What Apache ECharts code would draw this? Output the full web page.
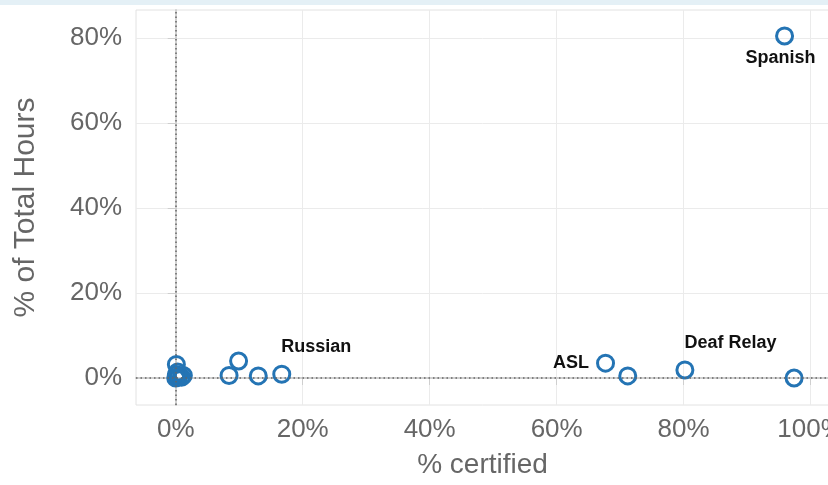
<!DOCTYPE html>
<html>
<head>
<meta charset="utf-8">
<script src="https://cdn.jsdelivr.net/npm/echarts@6/dist/echarts.min.js"></script>
<style>
  html, body { margin: 0; padding: 0; background: #fff; }
  #chart { width: 828px; height: 485px; }
</style>
</head>
<body>
<div id="chart"></div>
<script>
  // languages (only a few are labelled in the view)
  const languages = ['Spanish', 'Russian', 'ASL', '', 'Deaf Relay', '', '', '', '',
    '', '', '', '', '', '', '', '']
  const pctCertified = [95.9, 16.7, 67.7, 71.2, 80.2, 97.4, 9.9, 8.4, 13.0,
    0.1, 0.1, 0.2, 0.5, 0.9, 1.2, 0.3, 0.0]
  const pctHours = [80.5, 0.9, 3.5, 0.5, 1.9, 0.0, 4.0, 0.6, 0.5,
    3.2, 0.8, 0.2, 0.5, 0.2, 0.6, 1.4, 0.0]
  const xTicks = [0, 20, 40, 60, 80, 100]
  const yTicks = [0, 20, 40, 60, 80]

  const font = "'Liberation Sans', Arial, sans-serif"
  const blue = '#2474b4'

  // where each named point puts its text
  const labelPlace = {
    'Spanish': { position: 'bottom', distance: 4, offset: [-4, 0] },
    'Russian': { position: [9, -18], align: 'left', verticalAlign: 'middle' },
    'ASL': { position: 'left', distance: 7 },
    'Deaf Relay': { position: [9, -17], align: 'left', verticalAlign: 'middle' }
  }

  const points = pctCertified.map((x, i) => {
    const name = languages[i]
    const item = { value: [x, pctHours[i]], name: name }
    if (name && labelPlace[name]) {
      item.label = Object.assign({ show: true, formatter: name }, labelPlace[name])
    }
    return item
  })

  const chart = echarts.init(document.getElementById('chart'))
  chart.setOption({
    animation: false,
    textStyle: { fontFamily: font },
    graphic: [{
      type: 'rect',
      shape: { x: 0, y: 0, width: 828, height: 5 },
      style: { fill: '#e4f0f6' }
    }],
    grid: {
      left: 136,
      right: -1,
      top: 10,
      bottom: 80,
      outerBoundsMode: 'none',
      containLabel: false,
      show: true,
      borderColor: '#e2e2e2',
      borderWidth: 1
    },
    xAxis: {
      type: 'value',
      min: -6.26,
      max: 102.9,
      name: '% certified',
      nameLocation: 'middle',
      nameGap: 46,
      nameTextStyle: { fontSize: 28, color: '#666', fontFamily: font },
      axisLine: { show: true, lineStyle: { color: '#d0d0d0', width: 2 } },
      axisTick: { show: true, length: 7, customValues: xTicks, lineStyle: { color: '#cfcfcf' } },
      axisLabel: {
        customValues: xTicks,
        formatter: '{value}%',
        fontSize: 26,
        color: '#666',
        margin: 12
      },
      splitLine: { show: true, lineStyle: { color: '#ebebeb', width: 1 } }
    },
    yAxis: {
      type: 'value',
      min: -6.35,
      max: 86.6,
      name: '% of Total Hours',
      nameLocation: 'middle',
      nameGap: 95,
      nameTextStyle: { fontSize: 30, color: '#666', fontFamily: font },
      axisLine: { show: true, lineStyle: { color: '#d0d0d0', width: 2 } },
      axisTick: { show: true, length: 8, customValues: yTicks, lineStyle: { color: '#cfcfcf' } },
      axisLabel: {
        customValues: yTicks,
        formatter: '{value}%',
        fontSize: 26,
        color: '#666',
        margin: 14
      },
      splitLine: { show: true, lineStyle: { color: '#ebebeb', width: 1 } }
    },
    series: [{
      type: 'scatter',
      data: points,
      symbol: 'circle',
      symbolSize: 16,
      itemStyle: {
        color: 'rgba(255,255,255,0)',
        borderColor: blue,
        borderWidth: 3,
        opacity: 1
      },
      label: {
        show: false,
        fontSize: 18,
        fontWeight: 'bold',
        color: '#111',
        fontFamily: font
      },
      emphasis: { disabled: true },
      markLine: {
        silent: true,
        symbol: 'none',
        label: { show: false },
        lineStyle: { color: '#666', type: [1.5, 3], width: 1.5 },
        data: [{ xAxis: 0 }, { yAxis: 0 }]
      }
    }]
  })
</script>
</body>
</html>
